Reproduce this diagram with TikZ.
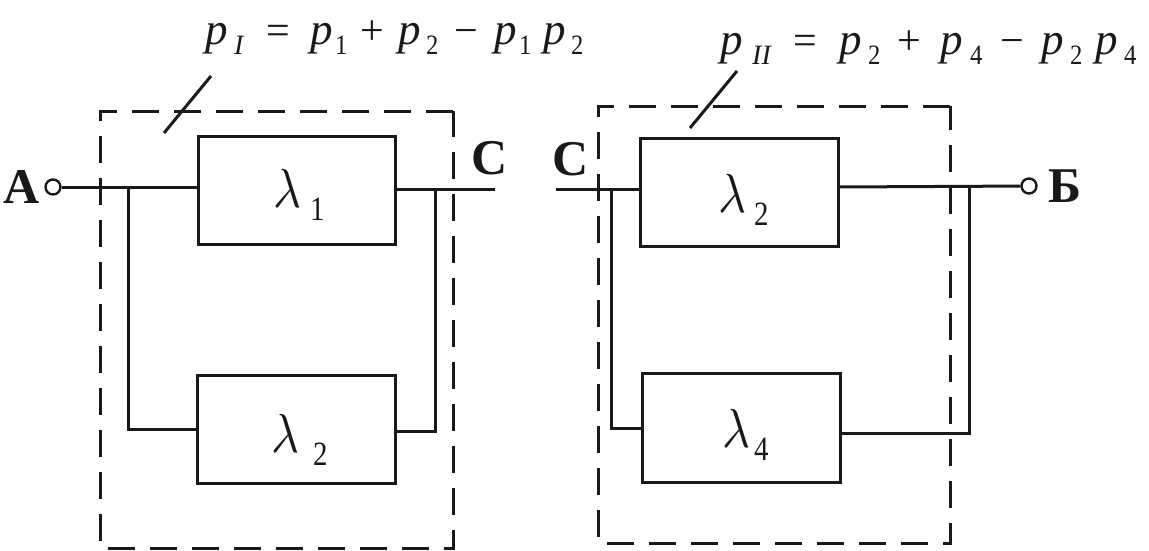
\documentclass[tikz,border=0pt]{standalone}
\usepackage{fontspec}
\setmainfont{Liberation Serif}
\newcommand{\tk}[2]{\makebox[#1pt][l]{#2}}
\newcommand{\fm}[1]{{\fontsize{45}{45}\selectfont\itshape #1}}
\newcommand{\fo}[1]{{\fontsize{42}{42}\selectfont #1}}
\newcommand{\fs}[1]{\raisebox{-10pt}{\scalebox{0.88}[1]{\fontsize{28}{28}\selectfont #1}}}
\newcommand{\fsi}[1]{\raisebox{-10pt}{\fontsize{28}{28}\selectfont\itshape #1}}
\newcommand{\lam}[2]{\makebox[#1pt][l]{\scalebox{4.8}[5.5]{$\lambda$}}\raisebox{-13pt}{\scalebox{0.85}[1]{\fontsize{34}{34}\selectfont #2}}}
\tikzset{
 ln/.style={line width=3pt,black!90},
 blockbox/.style={draw=black!90,line width=3pt,inner sep=0pt,fill=none},
 frame/.style={draw=black!90,line width=3pt,dash pattern=on 27pt off 15pt},
 term/.style={circle,draw=black!90,line width=2.4pt,minimum size=15pt,inner sep=0pt},
 lbl/.style={inner sep=0pt,anchor=base west,text=black!90},
 letter/.style={lbl,font=\fontsize{50}{50}\selectfont\bfseries},
}
\begin{document}
\begin{tikzpicture}[x=1pt,y=-1pt]
\useasboundingbox (0,0) rectangle (1149,550);
% frames
\draw[frame] (453,111) -- (100,111) -- (100,548) -- (453,548) -- cycle;
\draw[frame] (950,106) -- (598,106) -- (598,543) -- (950,543) -- cycle;
% blocks
\node[blockbox,minimum width=197pt,minimum height=108pt] (b1) at (296.5,190) {};
\node[blockbox,minimum width=198pt,minimum height=108pt] (b2) at (296,429) {};
\node[blockbox,minimum width=198pt,minimum height=108pt] (b3) at (739,192) {};
\node[blockbox,minimum width=198pt,minimum height=109pt] (b4) at (741,427.5) {};
% terminals
\node[term] (ta) at (53,187) {};
\node[term] (tb) at (1029,186) {};
\coordinate (b1i) at (198,187);
\coordinate (j1) at (128,187);
\coordinate (b2i) at (197,429);
\coordinate (b1o) at (395,189);
\coordinate (j2) at (435,189);
\coordinate (b2o) at (395,431);
\coordinate (c1) at (495,189);
\coordinate (c2) at (556,189);
\coordinate (j3) at (611,189);
\coordinate (b3i) at (640,189);
\coordinate (b4i) at (642,428);
\coordinate (b3o) at (838,187);
\coordinate (j4) at (969,186);
\coordinate (b4o) at (840,433);
\draw[ln] (ta) -- (b1i);
\draw[ln] (j1) |- (b2i);
\draw[ln] (b1o) -- (c1);
\draw[ln] (j2) |- (b2o);
\draw[ln] (c2) -- (b3i);
\draw[ln] (j3) |- (b4i);
\draw[ln] (b3o) -- (tb);
\draw[ln] (j4) |- (b4o);
% leaders
\coordinate (s1a) at (211,76);\coordinate (s1b) at (164,133);
\coordinate (s2a) at (737,71);\coordinate (s2b) at (690,128);
\draw[ln] (s1a) -- (s1b);
\draw[ln] (s2a) -- (s2b);
% letters
\node[letter] (la) at (3,203) {А};
\node[letter] (lc1) at (471,174) {С};
\node[letter] (lc2) at (552,175) {С};
\node[letter] (lb) at (1048,202) {Б};
% block labels
\node[lbl] (l1) at (273,207) {\lam{37}{1}};
\node[lbl] (l2) at (271,452) {\lam{42}{2}};
\node[lbl] (l3) at (718,212) {\lam{36}{2}};
\node[lbl] (l4) at (722,447) {\lam{32}{4}};
% formulas
\node[lbl] (f1) at (205,44) {\tk{29}{\fm{p}}\tk{32}{\fsi{I}}\tk{44}{\fo{=}}\tk{25}{\fm{p}}\tk{25}{\fs{1}}\tk{38}{\fo{+}}\tk{28}{\fm{p}}\tk{28}{\fs{2}}\tk{40}{\fo{−}}\tk{25}{\fm{p}}\tk{24}{\fs{1}}\tk{28}{\fm{p}}\fs{2}};
\node[lbl] (f2) at (720,54) {\tk{32}{\fm{p}}\tk{41}{\fsi{II}}\tk{46}{\fo{=}}\tk{29}{\fm{p}}\tk{29}{\fs{2}}\tk{43}{\fo{+}}\tk{30}{\fm{p}}\tk{30}{\fs{4}}\tk{41}{\fo{−}}\tk{29}{\fm{p}}\tk{25}{\fs{2}}\tk{29}{\fm{p}}\fs{4}};
\end{tikzpicture}
\end{document}
